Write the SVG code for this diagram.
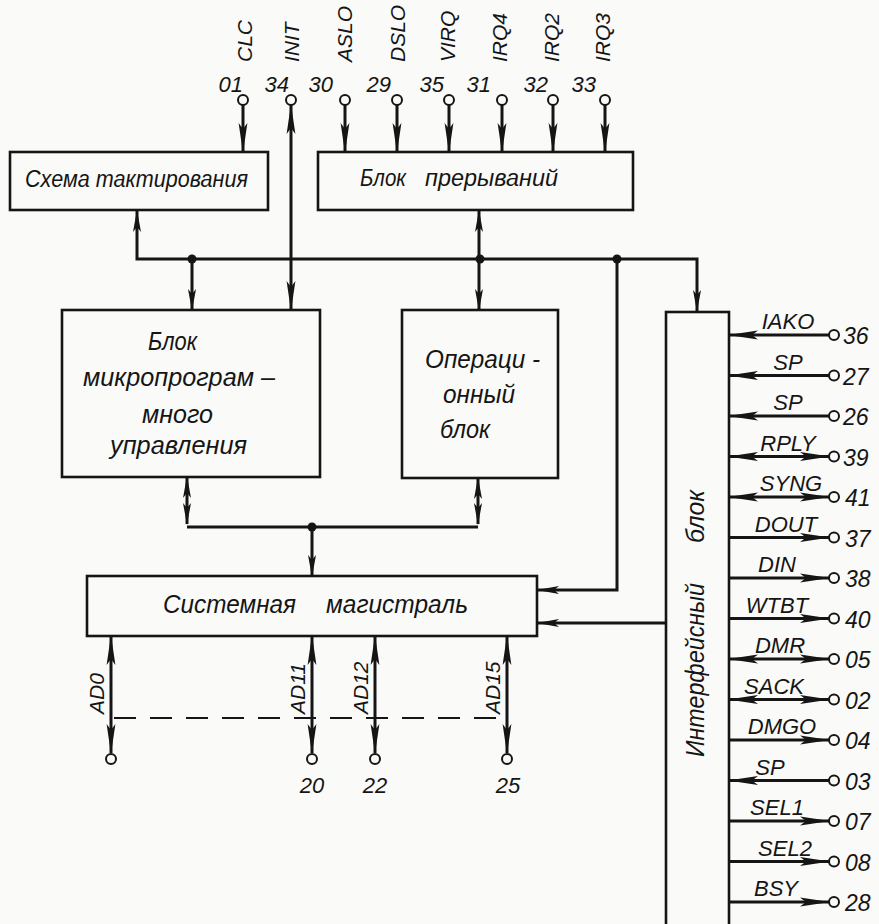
<svg xmlns="http://www.w3.org/2000/svg" width="879" height="924" viewBox="0 0 879 924">
<defs>
<style>
.bg{fill:#fafaf8}
.box{fill:none;stroke:#151515;stroke-width:2.6}
.w{fill:none;stroke:#151515;stroke-width:3}
.pin{fill:none;stroke:#151515;stroke-width:3}
.dash{fill:none;stroke:#151515;stroke-width:1.8;stroke-dasharray:22 14}
.c{fill:#fafaf8;stroke:#151515;stroke-width:2}
.dot{fill:#151515}
text{font-family:"Liberation Sans","DejaVu Sans",sans-serif;font-style:italic;fill:#151515}
.t{font-size:23px}
.tb{font-size:25px}
.lb{font-size:21px}
.lr{font-size:22px}
.n{font-size:22px}
.nr{font-size:23px}
</style>
<marker id="a" viewBox="0 0 30 10" refX="29" refY="5" markerWidth="30" markerHeight="10" markerUnits="userSpaceOnUse" orient="auto-start-reverse"><path d="M0,0.6 L30,5 L0,9.4 L6,5 Z" fill="#151515"/></marker>
<marker id="s" viewBox="0 0 22 9" refX="21" refY="4.5" markerWidth="22" markerHeight="9" markerUnits="userSpaceOnUse" orient="auto-start-reverse"><path d="M0,0.5 L22,4.5 L0,8.5 L5,4.5 Z" fill="#151515"/></marker>
</defs>
<rect class="bg" x="0" y="0" width="879" height="924"/>

<g id="connectors">
<path class="pin" d="M243,105 V152" marker-end="url(#a)"/>
<path class="pin" d="M291,105 V310" marker-start="url(#a)" marker-end="url(#a)"/>
<path class="pin" d="M345,105 V152" marker-end="url(#a)"/>
<path class="pin" d="M397,105 V152" marker-end="url(#a)"/>
<path class="pin" d="M449,105 V152" marker-end="url(#a)"/>
<path class="pin" d="M502,105 V152" marker-end="url(#a)"/>
<path class="pin" d="M553,105 V152" marker-end="url(#a)"/>
<path class="pin" d="M605,105 V152" marker-end="url(#a)"/>
<path class="w" d="M137,211 V259 H697 V311" marker-start="url(#s)" marker-end="url(#s)"/>
<path class="w" d="M192,259 V310" marker-end="url(#s)"/>
<path class="w" d="M479,211 V310" marker-start="url(#s)" marker-end="url(#s)"/>
<path class="w" d="M617,259 V590 H538" marker-end="url(#s)"/>
<path class="w" d="M666,623 H538" marker-end="url(#s)"/>
<path class="w" d="M187,477 V524" marker-start="url(#s)" marker-end="url(#s)"/>
<path class="w" d="M478,478 V524" marker-start="url(#s)" marker-end="url(#s)"/>
<path class="w" d="M187,527 H478"/>
<path class="w" d="M312,527 V576" marker-end="url(#s)"/>
<circle class="dot" cx="192" cy="259" r="4.5"/>
<circle class="dot" cx="480" cy="259" r="4.5"/>
<circle class="dot" cx="617" cy="259" r="4.5"/>
<circle class="dot" cx="312" cy="527" r="4.5"/>
<path class="pin" d="M111,636 V753" marker-start="url(#a)" marker-end="url(#a)"/>
<path class="pin" d="M312,636 V753" marker-start="url(#a)" marker-end="url(#a)"/>
<path class="pin" d="M375,636 V753" marker-start="url(#a)" marker-end="url(#a)"/>
<path class="pin" d="M507,636 V753" marker-start="url(#a)" marker-end="url(#a)"/>
<path class="dash" d="M114,718 H508"/>
<path class="pin" d="M829,335 H729" marker-end="url(#a)"/>
<path class="pin" d="M829,375.5 H729" marker-end="url(#a)"/>
<path class="pin" d="M829,416 H729" marker-end="url(#a)"/>
<path class="pin" d="M729,456.5 H829" marker-start="url(#a)" marker-end="url(#a)"/>
<path class="pin" d="M729,497 H829" marker-start="url(#a)" marker-end="url(#a)"/>
<path class="pin" d="M729,537.5 H829" marker-end="url(#a)"/>
<path class="pin" d="M729,578 H829" marker-end="url(#a)"/>
<path class="pin" d="M729,618.5 H829" marker-end="url(#a)"/>
<path class="pin" d="M729,659 H829" marker-start="url(#a)" marker-end="url(#a)"/>
<path class="pin" d="M729,699.5 H829" marker-start="url(#a)" marker-end="url(#a)"/>
<path class="pin" d="M729,740 H829" marker-end="url(#a)"/>
<path class="pin" d="M829,780.5 H729" marker-end="url(#a)"/>
<path class="pin" d="M729,821 H829" marker-end="url(#a)"/>
<path class="pin" d="M729,861.5 H829" marker-end="url(#a)"/>
<path class="pin" d="M729,902 H829" marker-end="url(#a)"/>
</g>

<g id="pins-top">
<circle class="c" cx="243" cy="100" r="5"/>
<circle class="c" cx="291" cy="100" r="5"/>
<circle class="c" cx="345" cy="100" r="5"/>
<circle class="c" cx="397" cy="100" r="5"/>
<circle class="c" cx="449" cy="100" r="5"/>
<circle class="c" cx="502" cy="100" r="5"/>
<circle class="c" cx="553" cy="100" r="5"/>
<circle class="c" cx="605" cy="100" r="5"/>
<text class="lb" transform="translate(252,62) rotate(-90)">CLC</text>
<text class="lb" transform="translate(299,62) rotate(-90)">INIT</text>
<text class="lb" transform="translate(352,62) rotate(-90)">ASLO</text>
<text class="lb" transform="translate(405,62) rotate(-90)">DSLO</text>
<text class="lb" transform="translate(455,62) rotate(-90)">VIRQ</text>
<text class="lb" transform="translate(507,62) rotate(-90)">IRQ4</text>
<text class="lb" transform="translate(559,62) rotate(-90)">IRQ2</text>
<text class="lb" transform="translate(610,62) rotate(-90)">IRQ3</text>
<g text-anchor="end">
<text class="n" x="243" y="92">01</text>
<text class="n" x="289" y="92">34</text>
<text class="n" x="333" y="92">30</text>
<text class="n" x="391" y="92">29</text>
<text class="n" x="444" y="92">35</text>
<text class="n" x="491" y="92">31</text>
<text class="n" x="548" y="92">32</text>
<text class="n" x="596" y="92">33</text>
</g>
</g>

<g id="clock">
<rect class="box" x="10" y="152" width="258" height="58"/>
<text class="t" x="25" y="187" textLength="223" lengthAdjust="spacingAndGlyphs">Схема тактирования</text>
</g>

<g id="interrupts">
<rect class="box" x="318" y="152" width="315" height="58"/>
<text class="t" x="360" y="186" textLength="46" lengthAdjust="spacingAndGlyphs">Блок</text>
<text class="t" x="425" y="186" textLength="133" lengthAdjust="spacingAndGlyphs">прерываний</text>
</g>

<g id="microprogram">
<rect class="box" x="62" y="310" width="258" height="167"/>
<text class="tb" x="148" y="350" textLength="49" lengthAdjust="spacingAndGlyphs">Блок</text>
<text class="tb" x="83" y="386" textLength="192" lengthAdjust="spacingAndGlyphs">микропрограм –</text>
<text class="tb" x="142" y="423" textLength="71" lengthAdjust="spacingAndGlyphs">много</text>
<text class="tb" x="110" y="454" textLength="137" lengthAdjust="spacingAndGlyphs">управления</text>
</g>

<g id="operational">
<rect class="box" x="402" y="310" width="156" height="168"/>
<text class="tb" x="425" y="368" textLength="115" lengthAdjust="spacingAndGlyphs">Операци -</text>
<text class="tb" x="443" y="403" textLength="72" lengthAdjust="spacingAndGlyphs">онный</text>
<text class="tb" x="440" y="438" textLength="50" lengthAdjust="spacingAndGlyphs">блок</text>
</g>

<g id="systembus">
<rect class="box" x="87" y="576" width="450" height="60"/>
<text class="tb" x="163" y="613" textLength="133" lengthAdjust="spacingAndGlyphs">Системная</text>
<text class="tb" x="326" y="613" textLength="142" lengthAdjust="spacingAndGlyphs">магистраль</text>
</g>

<g id="pins-bottom">
<circle class="c" cx="111" cy="759" r="5"/>
<circle class="c" cx="312" cy="759" r="5"/>
<circle class="c" cx="375" cy="759" r="5"/>
<circle class="c" cx="507" cy="759" r="5"/>
<text class="lb" transform="translate(104,714) rotate(-90)">AD0</text>
<text class="lb" transform="translate(305,714) rotate(-90)">AD11</text>
<text class="lb" transform="translate(368,714) rotate(-90)">AD12</text>
<text class="lb" transform="translate(500,714) rotate(-90)">AD15</text>
<text class="n" x="312" y="793" text-anchor="middle">20</text>
<text class="n" x="375" y="793" text-anchor="middle">22</text>
<text class="n" x="508" y="793" text-anchor="middle">25</text>
</g>

<g id="interface">
<rect class="box" x="666" y="312" width="63" height="640"/>
<text class="tb" transform="translate(704,757) rotate(-90)" textLength="174" lengthAdjust="spacingAndGlyphs">Интерфейсный</text>
<text class="tb" transform="translate(704,543) rotate(-90)" textLength="53" lengthAdjust="spacingAndGlyphs">блок</text>
</g>

<g id="pins-right">
<circle class="c" cx="834" cy="335" r="5"/>
<circle class="c" cx="834" cy="375.5" r="5"/>
<circle class="c" cx="834" cy="416" r="5"/>
<circle class="c" cx="834" cy="456.5" r="5"/>
<circle class="c" cx="834" cy="497" r="5"/>
<circle class="c" cx="834" cy="537.5" r="5"/>
<circle class="c" cx="834" cy="578" r="5"/>
<circle class="c" cx="834" cy="618.5" r="5"/>
<circle class="c" cx="834" cy="659" r="5"/>
<circle class="c" cx="834" cy="699.5" r="5"/>
<circle class="c" cx="834" cy="740" r="5"/>
<circle class="c" cx="834" cy="780.5" r="5"/>
<circle class="c" cx="834" cy="821" r="5"/>
<circle class="c" cx="834" cy="861.5" r="5"/>
<circle class="c" cx="834" cy="902" r="5"/>
<g text-anchor="middle">
<text class="lr" x="788" y="329">IAKO</text>
<text class="lr" x="788" y="369.5">SP</text>
<text class="lr" x="788" y="410">SP</text>
<text class="lr" x="788" y="450.5">RPLY</text>
<text class="lr" x="791" y="491">SYNG</text>
<text class="lr" x="786" y="531.5">DOUT</text>
<text class="lr" x="777" y="572">DIN</text>
<text class="lr" x="777" y="612.5">WTBT</text>
<text class="lr" x="780" y="653">DMR</text>
<text class="lr" x="774" y="693.5">SACK</text>
<text class="lr" x="782" y="734">DMGO</text>
<text class="lr" x="770" y="774.5">SP</text>
<text class="lr" x="777" y="815">SEL1</text>
<text class="lr" x="785" y="855.5">SEL2</text>
<text class="lr" x="776" y="896">BSY</text>
</g>
<text class="nr" x="843" y="344">36</text>
<text class="nr" x="843" y="384.5">27</text>
<text class="nr" x="843" y="425">26</text>
<text class="nr" x="843" y="465.5">39</text>
<text class="nr" x="845" y="506">41</text>
<text class="nr" x="845" y="546.5">37</text>
<text class="nr" x="845" y="587">38</text>
<text class="nr" x="845" y="627.5">40</text>
<text class="nr" x="845" y="668">05</text>
<text class="nr" x="845" y="708.5">02</text>
<text class="nr" x="845" y="749">04</text>
<text class="nr" x="845" y="789.5">03</text>
<text class="nr" x="845" y="830">07</text>
<text class="nr" x="845" y="870.5">08</text>
<text class="nr" x="845" y="911">28</text>
</g>
</svg>
